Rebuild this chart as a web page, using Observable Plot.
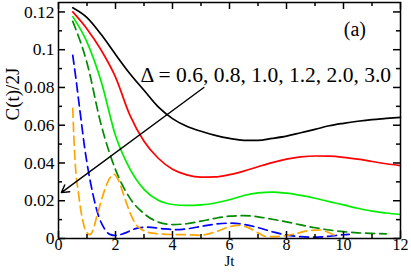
<!DOCTYPE html>
<html><head><meta charset="utf-8">
<script src="https://cdn.jsdelivr.net/npm/d3@7"></script>
<script src="https://cdn.jsdelivr.net/npm/@observablehq/plot@0.6"></script>
<style>body{margin:0;background:#fff} svg{display:block} svg text{font-family:'Liberation Serif','Times New Roman',serif !important}</style>
</head><body><div id="chart"></div>
<script>
// Series: Delta values, colours, dash style
const deltaLabels = ["0.6", "0.8", "1.0", "1.2", "2.0", "3.0"];
const seriesColors = ["#000000", "#ff0000", "#00ee00", "#008b00", "#0000ff", "#ffa500"];
const seriesDashed = [false, false, false, true, true, true];

// Time grids
const tGrid = [0.5,1,1.5,2,2.5,3,3.5,4,4.5,5,5.5,6,6.5,7,7.5,8,8.5,9,9.5,10,10.5,11,11.5,12];
const tGridDG = [0.5,1,1.5,2,2.5,3,3.5,4,4.5,5,5.5,6,6.5,7,7.5,8,8.5,9,9.5,10,10.5,11,11.5];
const tBlue = [0.5,0.6,0.7,0.8,0.9,1.0,1.2,1.4,1.6,1.8,2.0,2.3,2.7,3.1,3.6,4.1,4.6,5.0,5.5,6.0,6.5,7.0,7.5,8.0,8.5,9.0,9.5,10.0,10.2];
const tOrange = [0.5,0.55,0.6,0.7,0.8,0.9,1.0,1.1,1.2,1.35,1.5,1.65,1.8,1.95,2.1,2.3,2.5,2.7,2.9,3.3,3.8,4.5,5.0,5.5,6.0,6.3,6.7,7.0,7.3,7.8,8.3,8.8,9.2,9.5,9.8];

// C(t)/2J values
const c06 = [0.1222,0.117,0.108,0.0975,0.0874,0.0785,0.0697,0.0635,0.0595,0.0568,0.0546,0.053,0.052,0.052,0.053,0.0542,0.056,0.0578,0.0597,0.061,0.0621,0.063,0.0636,0.0642];
const c08 = [0.120,0.111,0.0997,0.0855,0.0655,0.0515,0.0425,0.0367,0.0337,0.0325,0.0326,0.0338,0.0357,0.038,0.0402,0.042,0.0432,0.0437,0.0436,0.043,0.042,0.0408,0.0396,0.0386];
const c10 = [0.1175,0.104,0.083,0.0545,0.037,0.026,0.0202,0.018,0.0175,0.0178,0.0188,0.0205,0.0228,0.0242,0.0246,0.024,0.0228,0.0213,0.0195,0.0178,0.016,0.0145,0.0135,0.0127];
const c12 = [0.115,0.093,0.06,0.0365,0.0215,0.0132,0.0087,0.0074,0.0078,0.0092,0.0107,0.0118,0.0121,0.0115,0.0102,0.0088,0.0072,0.0057,0.0045,0.0036,0.003,0.0027,0.0025];
const c20 = [0.097,0.086,0.074,0.062,0.05,0.04,0.024,0.0122,0.0055,0.0022,0.0016,0.0027,0.0052,0.006,0.0053,0.0047,0.0053,0.0064,0.0076,0.0081,0.0075,0.0058,0.0036,0.0018,0.001,0.0007,0.0012,0.002,0.0022];
const c30 = [0.069,0.05,0.037,0.024,0.0135,0.0065,0.003,0.002,0.004,0.012,0.02,0.027,0.032,0.034,0.031,0.0225,0.014,0.0078,0.005,0.0028,0.0022,0.002,0.0018,0.0035,0.0062,0.007,0.0055,0.003,0.001,0.0012,0.0025,0.0042,0.0045,0.003,0.0008];

const seriesT = [tGrid, tGrid, tGrid, tGridDG, tBlue, tOrange];
const seriesC = [c06, c08, c10, c12, c20, c30];

// Axis ticks
const xMajor = [0, 2, 4, 6, 8, 10, 12];
const xMinor = [1, 3, 5, 7, 9, 11];
const yMajor = [0, 0.02, 0.04, 0.06, 0.08, 0.1, 0.12];
const yTickLabels = ["0", "0.02", "0.04", "0.06", "0.08", "0.1", "0.12"];
const yMinor = [0.01, 0.03, 0.05, 0.07, 0.09, 0.11];

// Annotations
const annotText = "\u0394 = " + deltaLabels.join(", ");
const annotPos = [{x: 2.88, y: 0.0831}];
const panelLabel = [{x: 10.4, y: 0.107, text: "(a)"}];
const arrowData = [{x1: 5.1, y1: 0.080, x2: 0.1, y2: 0.0243}];

const W = 411, H = 273, ML = 58, MR = 11, MT = 2, MB = 35;
const FW = W - ML - MR, FH = H - MT - MB;

const lineMarks = seriesC.map((vals, i) => {
  const data = vals.map((v, j) => ({t: seriesT[i][j], c: v}));
  return Plot.line(data, {
    x: "t", y: "c", stroke: seriesColors[i], strokeWidth: 1.7,
    strokeDasharray: seriesDashed[i] ? "9,5" : null,
    curve: "monotone-x"
  });
});

const fam = "'Liberation Serif', 'Times New Roman', serif";
const tickStyle = {stroke: "#000", strokeWidth: 1.5};
const chart = Plot.plot({
  width: W, height: H,
  marginLeft: ML, marginRight: MR, marginTop: MT, marginBottom: MB,
  style: {fontFamily: fam, fontSize: "16px", color: "#000", background: "#fff"},
  x: {domain: [0, 12], axis: null},
  y: {domain: [0, 0.125], axis: null},
  marks: [
    ...lineMarks,
    Plot.arrow(arrowData, {x1: "x1", y1: "y1", x2: "x2", y2: "y2", stroke: "#000", strokeWidth: 1.4, headLength: 9}),
    Plot.text(annotPos, {x: "x", y: "y", text: () => annotText, textAnchor: "start", lineAnchor: "bottom", fontSize: 21.5, fill: "#000"}),
    Plot.text(panelLabel, {x: "x", y: "y", text: "text", lineAnchor: "bottom", fontSize: 20, fill: "#000"}),
    // inward ticks on all four sides
    Plot.tickX(xMajor, {x: d => d, insetTop: FH - 7, ...tickStyle}),
    Plot.tickX(xMinor, {x: d => d, insetTop: FH - 4, ...tickStyle}),
    Plot.tickX(xMajor, {x: d => d, insetBottom: FH - 7, ...tickStyle}),
    Plot.tickX(xMinor, {x: d => d, insetBottom: FH - 4, ...tickStyle}),
    Plot.tickY(yMajor, {y: d => d, insetRight: FW - 7, ...tickStyle}),
    Plot.tickY(yMinor, {y: d => d, insetRight: FW - 4, ...tickStyle}),
    Plot.tickY(yMajor, {y: d => d, insetLeft: FW - 7, ...tickStyle}),
    Plot.tickY(yMinor, {y: d => d, insetLeft: FW - 4, ...tickStyle}),
    // tick labels
    Plot.axisX(xMajor, {anchor: "bottom", tickSize: 0, tickPadding: 0, label: null, fontSize: 16, fill: "#000"}),
    Plot.axisY(yMajor, {anchor: "left", tickSize: 0, tickPadding: 4, label: null, fontSize: 17.5, fill: "#000",
      tickFormat: d => yTickLabels[yMajor.indexOf(d)]}),
    // axis titles
    Plot.text(["Jt"], {frameAnchor: "bottom", dy: 27, fontSize: 15, fill: "#000"}),
    Plot.text(["C(t)/2J"], {frameAnchor: "left", dx: -46, rotate: -90, fontSize: 19, fill: "#000"}),
    Plot.frame({stroke: "#000", strokeWidth: 1.5})
  ]
});
document.getElementById("chart").appendChild(chart);
</script>
</body></html>
